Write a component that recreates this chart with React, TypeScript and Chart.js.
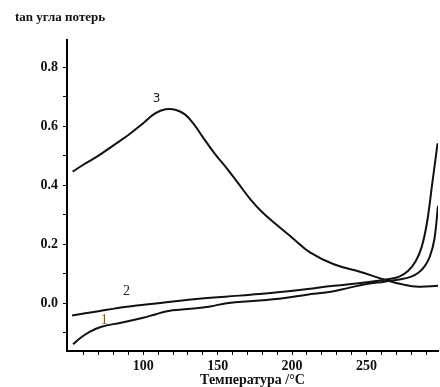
import React, { useEffect, useRef } from "react";
import { Chart, registerables } from "chart.js";

Chart.register(...registerables);

// Curve 1 (temperature °C, tan δ)
const curve1X = [52.9, 58, 64, 72, 85, 100, 108, 116, 130, 145, 156, 178, 195, 210, 225, 238, 250, 262, 272, 280, 285, 289, 292.5, 295.5, 298];
const curve1Y = [-0.139, -0.117, -0.097, -0.08, -0.066, -0.049, -0.038, -0.027, -0.02, -0.011, 0.0, 0.009, 0.018, 0.029, 0.038, 0.052, 0.065, 0.073, 0.08, 0.09, 0.104, 0.125, 0.158, 0.215, 0.33];

// Curve 2
const curve2X = [52.2, 70, 89, 110, 134, 155, 178, 205, 228, 250, 263, 272, 278, 283, 287, 290.5, 294, 297.7];
const curve2Y = [-0.042, -0.027, -0.012, 0.0, 0.013, 0.022, 0.031, 0.045, 0.059, 0.071, 0.08, 0.09, 0.11, 0.142, 0.19, 0.27, 0.4, 0.542];

// Curve 3
const curve3X = [52.6, 60, 70, 80, 90, 100, 108, 115, 122, 128, 134, 140, 148, 156, 164, 172, 180, 190, 200, 212, 228, 246, 262, 275, 285, 298];
const curve3Y = [0.446, 0.47, 0.5, 0.535, 0.57, 0.61, 0.643, 0.657, 0.655, 0.64, 0.607, 0.563, 0.507, 0.458, 0.405, 0.352, 0.308, 0.264, 0.222, 0.172, 0.132, 0.106, 0.08, 0.063, 0.056, 0.059];

// Curve labels (data coordinates)
const labelTexts = ["1", "2", "3"];
const labelX = [73.8, 88.8, 109];
const labelY = [-0.057, 0.039, 0.692];

// Axis ticks
const xTicks = [60, 70, 80, 90, 100, 110, 120, 130, 140, 150, 160, 170, 180, 190, 200, 210, 220, 230, 240, 250, 260, 270, 280, 290];
const xLabeled = [100, 150, 200, 250];
const yTicks = [-0.1, 0.0, 0.1, 0.2, 0.3, 0.4, 0.5, 0.6, 0.7, 0.8];
const yLabeled = [0.0, 0.2, 0.4, 0.6, 0.8];

const yTitle = "tan угла потерь";
const xTitle = "Температура /°C";

const zip = (xs: number[], ys: number[]) => xs.map((x, i) => ({ x, y: ys[i] }));

export default function App() {
  const ref = useRef<HTMLCanvasElement | null>(null);

  useEffect(() => {
    document.body.style.margin = "0";
    const canvas = ref.current;
    if (!canvas) return;

    const textPlugin = {
      id: "texts",
      afterDraw(chart: any) {
        const ctx = chart.ctx;
        const xs = chart.scales.x;
        const ys = chart.scales.y;
        ctx.save();
        ctx.fillStyle = "#111";
        ctx.textBaseline = "middle";
        ctx.font = "bold 13px 'Liberation Serif'";
        ctx.textAlign = "left";
        ctx.fillText(yTitle, 15, 18);
        ctx.font = "bold 14px 'Liberation Serif'";
        ctx.textAlign = "center";
        ctx.fillText(xTitle, (chart.chartArea.left + chart.chartArea.right) / 2, 380);
        labelTexts.forEach((t, i) => {
          const px = xs.getPixelForValue(labelX[i]);
          const py = ys.getPixelForValue(labelY[i]);
          if (t === "3") {
            ctx.font = "12px 'DejaVu Sans'";
            ctx.fillStyle = "#222";
          } else if (t === "1") {
            ctx.font = "14px 'Liberation Serif'";
            ctx.fillStyle = "#7a5a1a";
          } else {
            ctx.font = "14px 'Liberation Serif'";
            ctx.fillStyle = "#222";
          }
          ctx.fillText(t, px, py);
        });
        ctx.restore();
      },
    };

    const lineStyle = {
      borderColor: "#111",
      borderWidth: 2,
      pointRadius: 0,
      fill: false,
      tension: 0.4,
    };

    const chart = new Chart(canvas, {
      type: "line",
      data: {
        datasets: [
          { ...lineStyle, label: "1", data: zip(curve1X, curve1Y) },
          { ...lineStyle, label: "2", data: zip(curve2X, curve2Y) },
          { ...lineStyle, label: "3", data: zip(curve3X, curve3Y) },
        ],
      },
      options: {
        responsive: false,
        animation: false,
        layout: { padding: { top: 40, right: 2, left: 0, bottom: 0 } },
        plugins: {
          legend: { display: false },
          tooltip: { enabled: false },
          title: { display: false },
        },
        scales: {
          x: {
            type: "linear",
            min: 48.8,
            max: 298,
            afterBuildTicks: (scale: any) => {
              scale.ticks = xTicks.map((v) => ({ value: v }));
            },
            afterFit: (scale: any) => {
              scale.height = 36;
            },
            border: { display: true, color: "#000", width: 2 },
            grid: {
              display: true,
              drawOnChartArea: false,
              drawTicks: true,
              tickLength: 4,
              color: "#000",
              lineWidth: 1,
            },
            ticks: {
              padding: 3,
              color: "#111",
              maxRotation: 0,
              autoSkip: false,
              font: { family: "'Liberation Serif'", size: 14, weight: "bold" },
              callback: (v: any) => (xLabeled.includes(Math.round(Number(v))) ? String(Math.round(Number(v))) : ""),
            },
          },
          y: {
            type: "linear",
            min: -0.162,
            max: 0.892,
            afterBuildTicks: (scale: any) => {
              scale.ticks = yTicks.map((v) => ({ value: v }));
            },
            afterFit: (scale: any) => {
              scale.width = 67;
            },
            border: { display: true, color: "#000", width: 2 },
            grid: {
              display: true,
              drawOnChartArea: false,
              drawTicks: true,
              tickLength: 4,
              color: "#000",
              lineWidth: 1,
            },
            ticks: {
              padding: 5,
              color: "#111",
              autoSkip: false,
              font: { family: "'Liberation Serif'", size: 14, weight: "bold" },
              callback: (v: any) => {
                const n = Math.round(Number(v) * 10) / 10;
                return yLabeled.some((l) => Math.abs(l - n) < 1e-6) ? n.toFixed(1) : "";
              },
            },
          },
        },
      },
      plugins: [textPlugin],
    });

    return () => chart.destroy();
  }, []);

  return (
    <div style={{ width: 440, height: 387, background: "#fff" }}>
      <canvas ref={ref} width={440} height={387} style={{ display: "block" }} />
    </div>
  );
}
